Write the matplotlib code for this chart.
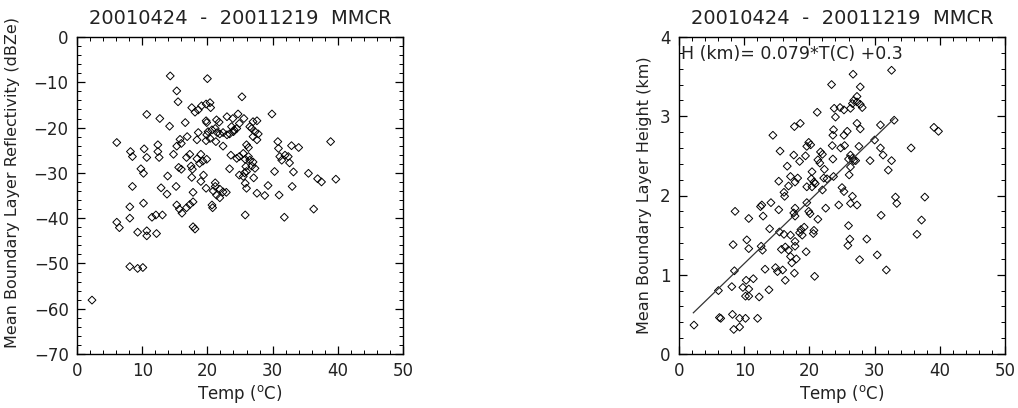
import numpy as np
import matplotlib
matplotlib.use("Agg")
import matplotlib.pyplot as plt
from matplotlib.ticker import MultipleLocator

# values
refl_temp = [
    14.3, 20.0, 15.3, 25.3, 15.5, 17.6, 18.1, 18.6, 19.1, 19.8, 20.4, 20.5,
    29.9, 10.7, 12.7, 14.2, 16.6, 19.8, 19.9, 21.4, 21.8, 23.0, 23.9, 24.7,
    25.6, 27.0, 27.6, 23.7, 24.1, 24.5, 24.9, 26.5, 26.8, 27.3, 27.8, 27.0,
    27.6, 18.6, 18.4, 19.9, 20.1, 20.7, 21.2, 21.5, 21.9, 22.4, 23.0, 23.4,
    24.0, 19.8, 20.4, 21.3, 22.4, 6.1, 12.4, 15.8, 16.9, 16.0, 15.3, 8.2,
    8.5, 10.3, 10.7, 12.4, 12.6, 14.8, 16.8, 17.3, 19.0, 18.4, 19.3, 19.9,
    23.6, 24.5, 24.9, 25.5, 25.8, 26.3, 26.0, 26.3, 26.5, 27.0, 26.8, 27.3,
    25.9, 30.8, 30.9, 32.9, 34.0, 31.1, 31.4, 31.9, 32.4, 32.6, 38.9, 9.8,
    10.2, 13.9, 15.6, 16.0, 17.5, 17.7, 18.8, 23.4, 24.9, 25.5, 26.0, 27.1,
    25.7, 30.3, 33.2, 35.5, 36.9, 37.5, 39.7, 8.5, 12.9, 15.2, 17.6, 19.4,
    19.0, 19.8, 21.2, 21.2, 21.9, 25.8, 29.3, 33.0, 26.0, 13.8, 17.8, 20.9,
    21.4, 21.9, 22.4, 22.9, 27.6, 28.8, 31.0, 36.3, 8.1, 10.2, 8.1, 6.1,
    6.5, 11.5, 12.1, 13.1, 15.3, 15.7, 16.1, 16.8, 17.3, 17.8, 20.7, 20.8,
    17.8, 18.1, 9.3, 10.7, 10.7, 12.2, 25.8, 31.8, 8.1, 9.3, 10.1, 2.3,
]
refl_dbz = [
    -8.6, -9.2, -11.9, -13.2, -14.3, -15.6, -16.6, -16.1, -15.2, -14.8, -14.5, -15.6,
    -17.0, -17.1, -18.0, -19.7, -18.9, -18.5, -18.9, -18.3, -18.8, -17.6, -18.0, -17.0,
    -18.0, -18.7, -18.5, -19.8, -20.5, -20.2, -19.1, -19.8, -20.2, -20.9, -21.4, -22.0,
    -22.7, -21.1, -22.7, -21.6, -20.9, -20.5, -20.2, -21.1, -21.4, -21.1, -21.6, -21.4,
    -20.9, -22.9, -22.4, -23.1, -24.1, -23.3, -23.8, -22.6, -22.0, -23.5, -24.1, -25.3,
    -26.4, -24.7, -26.6, -25.3, -26.6, -25.9, -26.6, -25.9, -25.9, -26.9, -27.4, -27.0,
    -26.1, -26.8, -26.4, -25.7, -27.0, -24.4, -23.8, -26.4, -27.2, -27.6, -28.5, -29.0,
    -28.6, -23.1, -24.6, -24.0, -24.4, -26.4, -27.2, -26.1, -26.4, -27.8, -23.1, -29.1,
    -30.1, -30.7, -28.8, -29.2, -28.5, -29.2, -27.9, -29.1, -30.5, -30.8, -29.7, -31.1,
    -30.0, -29.7, -29.8, -30.1, -31.3, -32.0, -31.4, -33.0, -33.3, -33.0, -31.0, -30.5,
    -31.9, -33.4, -32.2, -33.0, -33.6, -32.3, -32.8, -33.0, -33.4, -34.7, -34.3, -34.0,
    -34.9, -35.5, -34.2, -34.3, -34.5, -35.0, -34.9, -38.0, -37.5, -36.7, -40.0, -40.9,
    -42.1, -39.8, -39.3, -39.3, -37.1, -38.0, -38.9, -37.7, -37.0, -36.4, -37.1, -37.7,
    -41.9, -42.4, -43.1, -42.8, -43.9, -43.4, -39.3, -39.8, -50.7, -51.1, -50.9, -58.1,
]

height_temp = [
    32.6, 26.7, 23.4, 27.8, 27.3, 26.8, 26.6, 27.3, 27.8, 28.1, 23.8, 24.7,
    25.3, 26.3, 21.2, 24.0, 17.7, 18.6, 14.4, 33.0, 30.9, 39.1, 39.8, 27.3,
    27.8, 23.7, 23.6, 25.3, 25.8, 19.9, 19.6, 20.2, 23.5, 24.8, 25.4, 27.6,
    30.0, 30.9, 31.3, 35.6, 15.5, 17.6, 18.5, 19.4, 21.7, 22.0, 21.3, 21.6,
    23.6, 26.3, 26.0, 26.6, 26.8, 27.1, 26.3, 29.3, 32.6, 32.1, 16.6, 22.3,
    26.1, 15.3, 17.1, 17.8, 18.2, 20.4, 20.3, 20.7, 22.2, 22.7, 23.7, 19.6,
    20.4, 20.9, 16.1, 16.8, 25.0, 25.3, 22.0, 16.2, 26.6, 27.3, 26.3, 24.5,
    22.5, 33.2, 33.4, 37.7, 31.0, 37.2, 36.5, 12.7, 12.5, 14.1, 15.3, 8.6,
    10.7, 12.9, 17.6, 17.8, 17.8, 19.6, 19.9, 20.1, 21.3, 13.9, 15.4, 16.1,
    17.1, 18.5, 18.9, 19.2, 18.7, 20.7, 20.6, 17.8, 17.8, 19.5, 16.8, 15.7,
    16.3, 17.1, 17.3, 18.0, 26.0, 26.2, 28.8, 25.9, 27.7, 30.4, 31.8, 10.4,
    10.7, 8.3, 12.6, 12.8, 8.5, 13.2, 14.8, 15.1, 15.9, 17.7, 20.8, 16.3,
    11.4, 10.3, 8.1, 9.8, 10.7, 6.05, 10.2, 10.7, 12.3, 13.8, 6.2, 6.4,
    8.2, 9.3, 10.2, 12.05, 8.4, 9.3, 2.3,
]
height_km = [
    3.58, 3.53, 3.40, 3.37, 3.25, 3.20, 3.16, 3.18, 3.15, 3.11, 3.10, 3.11,
    3.08, 3.10, 3.05, 2.99, 2.87, 2.91, 2.76, 2.95, 2.89, 2.86, 2.81, 2.91,
    2.84, 2.83, 2.76, 2.76, 2.81, 2.67, 2.62, 2.64, 2.63, 2.60, 2.63, 2.62,
    2.70, 2.60, 2.51, 2.60, 2.56, 2.51, 2.43, 2.50, 2.55, 2.52, 2.45, 2.41,
    2.46, 2.51, 2.46, 2.47, 2.44, 2.44, 2.36, 2.44, 2.44, 2.32, 2.37, 2.33,
    2.26, 2.18, 2.24, 2.17, 2.22, 2.30, 2.21, 2.17, 2.22, 2.21, 2.24, 2.11,
    2.11, 2.15, 2.04, 2.12, 2.10, 2.05, 2.07, 1.99, 1.99, 1.88, 1.90, 1.88,
    1.84, 1.98, 1.90, 1.98, 1.75, 1.69, 1.51, 1.88, 1.86, 1.91, 1.82, 1.80,
    1.71, 1.74, 1.78, 1.74, 1.84, 1.91, 1.80, 1.77, 1.70, 1.58, 1.54, 1.51,
    1.50, 1.53, 1.50, 1.60, 1.57, 1.56, 1.52, 1.42, 1.36, 1.29, 1.31, 1.32,
    1.35, 1.23, 1.15, 1.20, 1.62, 1.45, 1.45, 1.37, 1.19, 1.25, 1.06, 1.44,
    1.33, 1.38, 1.36, 1.31, 1.05, 1.07, 1.09, 1.04, 1.06, 1.02, 0.98, 0.93,
    0.95, 0.93, 0.85, 0.84, 0.82, 0.80, 0.73, 0.73, 0.72, 0.81, 0.46, 0.45,
    0.50, 0.45, 0.45, 0.45, 0.31, 0.34, 0.365,
]

# end points of the drawn regression line
fit_temp = [2.2, 33.0]
fit_km = [0.52, 2.97]

title = "20010424  -  20011219  MMCR"
xlabel = r"Temp ($^{\rm o}$C)"
fit_text = "H (km)= 0.079*T(C) +0.3"

plt.rcParams["font.family"] = ["DejaVu Sans"]
plt.rcParams["mathtext.default"] = "regular"
plt.rcParams["xtick.minor.visible"] = True
plt.rcParams["ytick.minor.visible"] = True
TXT = "#222222"

fig = plt.figure(figsize=(10.18, 4.08), dpi=100)
ax1 = fig.add_axes([77 / 1018, 54 / 408, 326 / 1018, 317 / 408])
ax2 = fig.add_axes([679 / 1018, 54 / 408, 326 / 1018, 317 / 408])


def style(ax, ylabel):
    ax.set_xlim(0, 50)
    ax.xaxis.set_major_locator(MultipleLocator(10))
    ax.xaxis.set_minor_locator(MultipleLocator(1))
    ax.minorticks_on()
    ax.tick_params(which="both", direction="in", top=True, right=True,
                   labelsize=12, labelcolor=TXT, color="black")
    ax.tick_params(which="major", length=6, width=0.9, pad=6)
    ax.tick_params(which="minor", length=3, width=0.7)
    for sp in ax.spines.values():
        sp.set_linewidth(1.0)
    ax.set_xlabel(xlabel, fontsize=12, color=TXT, labelpad=2)
    ax.set_ylabel(ylabel, fontsize=11.5, color=TXT, labelpad=6)
    ax.set_title(title, fontsize=14, color=TXT, pad=9)


ax1.scatter(refl_temp, refl_dbz, marker="D", s=16, facecolors="none",
            edgecolors="black", linewidths=0.7)
ax1.set_ylim(-70, 0)
ax1.yaxis.set_major_locator(MultipleLocator(10))
ax1.yaxis.set_minor_locator(MultipleLocator(1))
style(ax1, "Mean Boundary Layer Reflectivity (dBZe)")
ax1.yaxis.set_label_coords(-0.175, 0.54)

ax2.scatter(height_temp, height_km, marker="D", s=16, facecolors="none",
            edgecolors="black", linewidths=0.7)
ax2.plot(fit_temp, fit_km, color="#333333", linewidth=0.9)
ax2.set_ylim(0, 4)
ax2.yaxis.set_major_locator(MultipleLocator(1))
ax2.yaxis.set_minor_locator(MultipleLocator(0.1))
style(ax2, "Mean Boundary Layer Height (km)")
ax2.text(0.005, 0.975, fit_text, transform=ax2.transAxes, fontsize=12.5,
         color=TXT, ha="left", va="top")

fig.savefig("out.png", dpi=100)
